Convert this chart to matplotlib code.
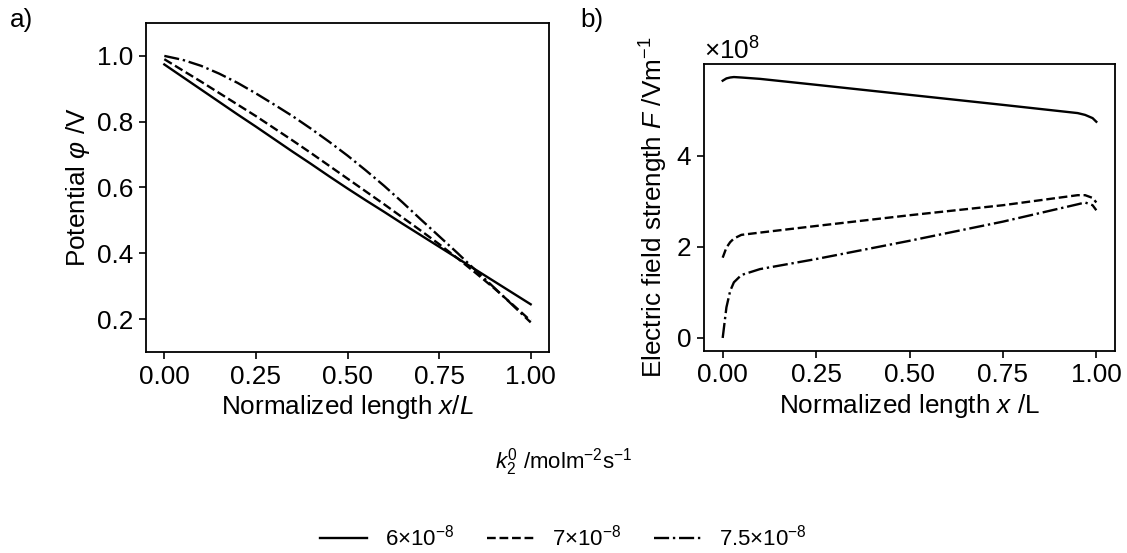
import matplotlib
matplotlib.use("Agg")
import matplotlib.pyplot as plt

plt.rcParams['font.family'] = ['Liberation Sans', 'DejaVu Sans']
plt.rcParams['mathtext.fontset'] = 'custom'
plt.rcParams['mathtext.rm'] = 'Liberation Sans'
plt.rcParams['mathtext.it'] = 'Liberation Sans:italic'
plt.rcParams['mathtext.bf'] = 'Liberation Sans:bold'

FS = 18.8
LFS = 16

# ---- panel a: potential ----
xa = [0.0, 0.05, 0.1, 0.15, 0.2, 0.25, 0.3, 0.35, 0.4, 0.45, 0.5,
      0.55, 0.6, 0.65, 0.7, 0.75, 0.8, 0.85, 0.9, 0.95, 1.0]
phi_6 = [0.974, 0.936, 0.898, 0.860, 0.822, 0.785, 0.747, 0.709, 0.672, 0.634, 0.597,
         0.561, 0.526, 0.490, 0.455, 0.420, 0.385, 0.350, 0.315, 0.280, 0.245]
phi_7 = [0.990, 0.956, 0.922, 0.887, 0.852, 0.817, 0.780, 0.743, 0.705, 0.666, 0.627,
         0.588, 0.549, 0.509, 0.469, 0.428, 0.385, 0.340, 0.294, 0.245, 0.195]
phi_75 = [1.000, 0.988, 0.970, 0.946, 0.918, 0.886, 0.852, 0.817, 0.779, 0.739, 0.697,
          0.652, 0.605, 0.555, 0.503, 0.452, 0.401, 0.348, 0.296, 0.243, 0.190]

# ---- panel b: electric field strength (units of 1e8) ----
xb = [0.0, 0.01, 0.02, 0.03, 0.05, 0.1, 0.25, 0.5, 0.75, 0.95, 0.97, 0.99, 1.0]
F_6 = [5.64, 5.69, 5.71, 5.72, 5.71, 5.68, 5.55, 5.33, 5.11, 4.93, 4.89, 4.82, 4.74]
F_7 = [1.76, 1.98, 2.10, 2.18, 2.26, 2.31, 2.455, 2.69, 2.91, 3.13, 3.13, 3.07, 2.97]
F_75 = [0.00, 0.67, 1.03, 1.22, 1.38, 1.51, 1.73, 2.13, 2.55, 2.93, 2.97, 2.91, 2.80]

labels = [r'6$\times$10$^{-8}$', r'7$\times$10$^{-8}$', r'7.5$\times$10$^{-8}$']
styles = ['-', '--', '-.']
legend_title = r'$k_2^0$ /molm$^{-2}$s$^{-1}$'

fig = plt.figure(figsize=(11.27, 5.53), dpi=100)
W, H = 1127, 553
axa = fig.add_axes([146 / W, 1 - 352 / H, (549 - 146) / W, (352 - 23) / H])
axb = fig.add_axes([704 / W, 1 - 351 / H, (1115 - 704) / W, (351 - 64) / H])

lw = 1.7
for ys, ls, lab in zip([phi_6, phi_7, phi_75], styles, labels):
    axa.plot(xa, ys, color='black', ls=ls, lw=lw, label=lab)
for ys, ls in zip([F_6, F_7, F_75], styles):
    axb.plot(xb, [v * 1e8 for v in ys], color='black', ls=ls, lw=lw)

axa.set_ylim(0.1, 1.1)
axa.set_yticks([0.2, 0.4, 0.6, 0.8, 1.0])
axa.set_xticks([0, 0.25, 0.5, 0.75, 1.0])
axa.set_xlabel(r'Normalized length $x$/$L$', fontsize=FS)
axa.set_ylabel(r'Potential $\varphi$ /V', fontsize=FS)

axb.set_xticks([0, 0.25, 0.5, 0.75, 1.0])
axb.set_yticks([0, 2e8, 4e8])
axb.ticklabel_format(axis='y', style='sci', scilimits=(0, 0), useMathText=True)
axb.yaxis.get_offset_text().set_fontsize(FS)
axb.set_xlabel(r'Normalized length $x$ /L', fontsize=FS)
axb.set_ylabel(r'Electric field strength $F$ /Vm$^{-1}$', fontsize=FS)

for ax in (axa, axb):
    ax.tick_params(labelsize=FS, width=1.2, length=5, pad=4)
    for s in ax.spines.values():
        s.set_linewidth(1.3)
    ax.xaxis.set_major_formatter(matplotlib.ticker.FormatStrFormatter('%.2f'))
    ax.xaxis.labelpad = 3

fig.text(10 / W, 1 - 20 / H, 'a)', fontsize=FS, va='center', ha='left')
fig.text(580 / W, 1 - 20 / H, 'b)', fontsize=FS, va='center', ha='left')

leg = fig.legend(*axa.get_legend_handles_labels(), loc='lower center',
                 bbox_to_anchor=(0.5, -0.032), ncol=3, frameon=False,
                 fontsize=LFS, title=legend_title, title_fontsize=LFS,
                 labelspacing=2.1, handlelength=2.1, handletextpad=0.8,
                 columnspacing=1.5)

fig.savefig('out.png', dpi=100)
